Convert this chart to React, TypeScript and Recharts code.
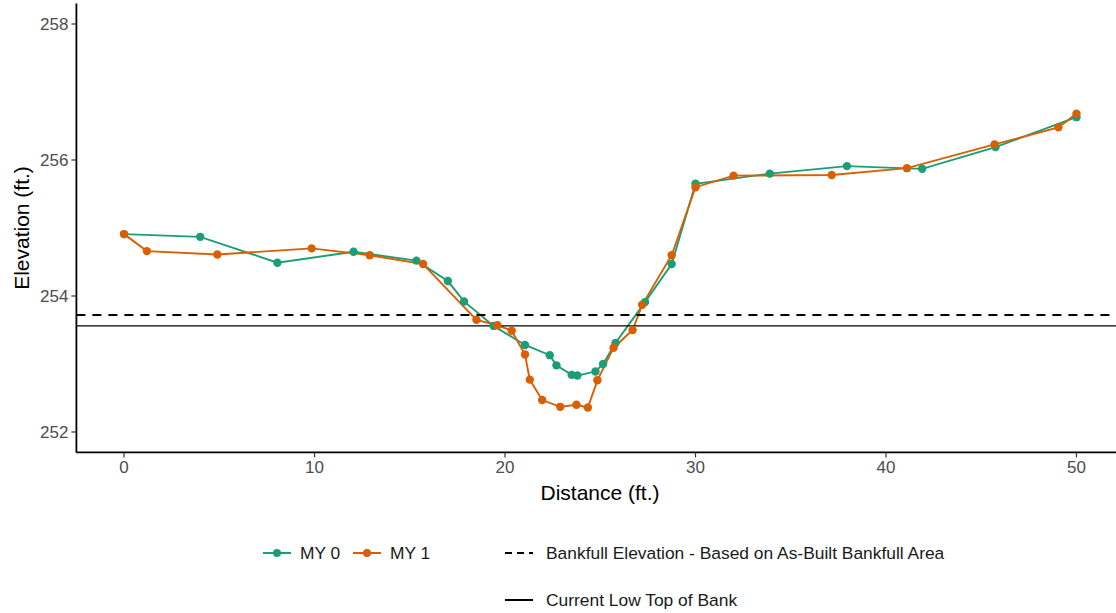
import { LineChart, Line, XAxis, YAxis, ReferenceLine } from 'recharts'

const MY0_DIST = [0, 4.0, 8.05, 12.05, 15.35, 17.0, 17.85, 19.4, 21.05, 22.35, 22.7, 23.5, 23.8, 24.75, 25.15, 25.8, 27.35, 28.75, 30.0, 33.9, 37.95, 41.9, 45.75, 50.0]
const MY0_ELEV = [254.91, 254.87, 254.49, 254.65, 254.52, 254.22, 253.92, 253.56, 253.28, 253.13, 252.98, 252.84, 252.83, 252.89, 253.0, 253.31, 253.91, 254.47, 255.65, 255.8, 255.91, 255.87, 256.19, 256.63]

const MY1_DIST = [0, 1.2, 4.9, 9.85, 12.9, 15.7, 18.5, 19.6, 20.35, 21.05, 21.3, 21.95, 22.9, 23.75, 24.35, 24.85, 25.7, 26.7, 27.2, 28.75, 30.0, 32.0, 37.15, 41.1, 45.7, 49.05, 50.0]
const MY1_ELEV = [254.91, 254.66, 254.61, 254.7, 254.6, 254.47, 253.65, 253.57, 253.49, 253.14, 252.77, 252.47, 252.37, 252.4, 252.36, 252.76, 253.24, 253.5, 253.87, 254.6, 255.6, 255.77, 255.78, 255.88, 256.23, 256.48, 256.68]

const BANKFULL = 253.72
const LOW_TOP_OF_BANK = 253.56

const X_TICKS = [0, 10, 20, 30, 40, 50]
const Y_TICKS = [252, 254, 256, 258]

const GREEN = '#1b9e77'
const ORANGE = '#d95f02'
const TICK_COLOR = '#4d4d4d'
const FONT = '"Liberation Sans", Arial, Helvetica, sans-serif'

const my0 = MY0_DIST.map((x, i) => ({ x, y: MY0_ELEV[i] }))
const my1 = MY1_DIST.map((x, i) => ({ x, y: MY1_ELEV[i] }))

function LegendKey({ color, dashed, point }: { color: string; dashed?: boolean; point?: boolean }) {
  return (
    <svg width={30} height={14} style={{ display: 'block' }}>
      <line x1={1} x2={29} y1={7} y2={7} stroke={color} strokeWidth={2} strokeDasharray={dashed ? '7 5' : undefined} />
      {point && <circle cx={15} cy={7} r={4} fill={color} />}
    </svg>
  )
}

export default function App() {
  const legendText = { fontSize: 17.4, color: '#1a1a1a', fontFamily: FONT, whiteSpace: 'nowrap' as const }
  return (
    <div style={{ position: 'absolute', left: 0, top: 0, width: 1116, height: 613, overflow: 'hidden', background: '#fff', fontFamily: FONT }}>
      <LineChart width={1136} height={613} margin={{ top: 3.6, right: 11.9, left: 0, bottom: 0 }}>
        <XAxis
          type="number"
          dataKey="x"
          domain={[-2.5, 52.5]}
          ticks={X_TICKS}
          allowDataOverflow
          height={160.6}
          tickSize={5}
          tickMargin={4}
          tick={{ fontSize: 17, fill: TICK_COLOR, fontFamily: FONT }}
          axisLine={{ stroke: '#000', strokeWidth: 1.8 }}
          tickLine={{ stroke: '#333', strokeWidth: 1.2 }}
        />
        <YAxis
          type="number"
          dataKey="y"
          domain={[251.7, 258.3]}
          ticks={Y_TICKS}
          allowDataOverflow
          width={76.4}
          tickSize={5}
          tickMargin={3}
          tick={{ fontSize: 17, fill: TICK_COLOR, fontFamily: FONT }}
          axisLine={{ stroke: '#000', strokeWidth: 1.8 }}
          tickLine={{ stroke: '#333', strokeWidth: 1.2 }}
        />
        <Line
          data={my0}
          dataKey="y"
          stroke={GREEN}
          strokeWidth={1.9}
          dot={{ r: 4.2, fill: GREEN, stroke: 'none' }}
          activeDot={false}
          isAnimationActive={false}
        />
        <Line
          data={my1}
          dataKey="y"
          stroke={ORANGE}
          strokeWidth={1.9}
          dot={{ r: 4.2, fill: ORANGE, stroke: 'none' }}
          activeDot={false}
          isAnimationActive={false}
        />
        <ReferenceLine y={BANKFULL} stroke="#000" strokeWidth={2} strokeDasharray="9 7" />
        <ReferenceLine y={LOW_TOP_OF_BANK} stroke="#000" strokeWidth={1.3} />
      </LineChart>

      <div style={{ position: 'absolute', left: 0, top: 227.5, width: 22, height: 0 }}>
        <div style={{ position: 'absolute', left: 22, top: 0, transform: 'translate(-50%, -50%) rotate(-90deg)', fontSize: 21, color: '#000', whiteSpace: 'nowrap' }}>
          Elevation (ft.)
        </div>
      </div>
      <div style={{ position: 'absolute', left: 600, top: 481, transform: 'translateX(-50%)', fontSize: 21, color: '#000', whiteSpace: 'nowrap' }}>
        Distance (ft.)
      </div>

      <div style={{ position: 'absolute', left: 262, top: 543, display: 'flex', alignItems: 'center', height: 20 }}>
        <LegendKey color={GREEN} point />
        <span style={{ ...legendText, marginLeft: 8, width: 52 }}>MY 0</span>
        <LegendKey color={ORANGE} point />
        <span style={{ ...legendText, marginLeft: 8 }}>MY 1</span>
      </div>
      <div style={{ position: 'absolute', left: 504, top: 543, display: 'flex', alignItems: 'center', height: 20 }}>
        <LegendKey color="#000" dashed />
        <span style={{ ...legendText, marginLeft: 12 }}>Bankfull Elevation - Based on As-Built Bankfull Area</span>
      </div>
      <div style={{ position: 'absolute', left: 504, top: 590, display: 'flex', alignItems: 'center', height: 20 }}>
        <LegendKey color="#000" />
        <span style={{ ...legendText, marginLeft: 12 }}>Current Low Top of Bank</span>
      </div>
    </div>
  )
}
